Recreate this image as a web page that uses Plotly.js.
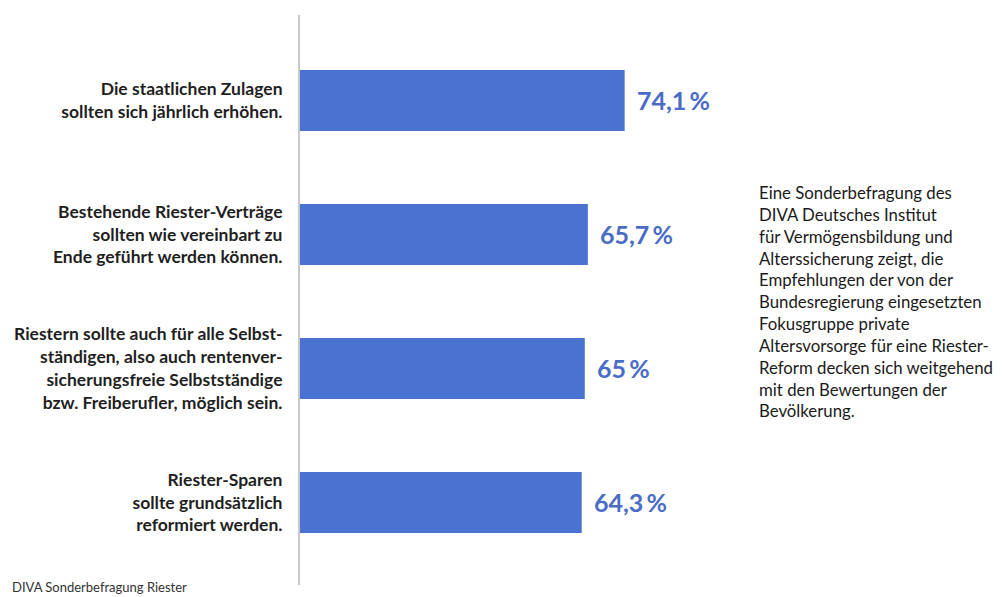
<!DOCTYPE html>
<html>
<head>
<meta charset="utf-8">
<script src="https://cdn.plot.ly/plotly-3.0.1.min.js"></script>
<style>html,body{margin:0;padding:0;background:#fff;}#chart{width:1005px;height:597px;}</style>
</head>
<body>
<div id="chart"></div>
<script>
const categories = [
  "Die staatlichen Zulagen<br>sollten sich jährlich erhöhen.",
  "Bestehende Riester-Verträge<br>sollten wie vereinbart zu<br>Ende geführt werden können.",
  "Riestern sollte auch für alle Selbst-<br>ständigen, also auch rentenver-<br>sicherungsfreie Selbstständige<br>bzw. Freiberufler, möglich sein.",
  "Riester-Sparen<br>sollte grundsätzlich<br>reformiert werden."
];
const values = [74.1, 65.7, 65, 64.3];
const valueLabels = ["74,1\u2009%", "65,7\u2009%", "65\u2009%", "64,3\u2009%"];
const sideNote = "Eine Sonderbefragung des<br>DIVA Deutsches Institut<br>für Vermögensbildung und<br>Alterssicherung zeigt, die<br>Empfehlungen der von der<br>Bundesregierung eingesetzten<br>Fokusgruppe private<br>Altersvorsorge für eine Riester-<br>Reform decken sich weitgehend<br>mit den Bewertungen der<br>Bevölkerung.";
const source = "DIVA Sonderbefragung Riester";

const barColor = "#4a72d0";
const labelColor = "#4a6cc6";

const trace = {
  type: "bar",
  orientation: "h",
  x: values,
  y: categories,
  width: 0.455,
  marker: {color: barColor},
  hoverinfo: "none"
};

const annotations = values.map((v, i) => ({
  x: v, y: categories[i], xref: "x", yref: "y",
  text: "<b>" + valueLabels[i] + "</b>",
  showarrow: false, xanchor: "left", yanchor: "middle", xshift: 10,
  font: {family: "Lato", size: 25, color: labelColor}
}));
annotations.push({
  xref: "paper", yref: "paper", x: 1.142, y: 0.7114,
  xanchor: "left", yanchor: "top", align: "left",
  text: sideNote, showarrow: false,
  font: {family: "Lato", size: 16.8, color: "#1a1a1a"}
});
annotations.push({
  xref: "paper", yref: "paper", x: -0.725, y: 0,
  xanchor: "left", yanchor: "bottom", yshift: -12, align: "left",
  text: source, showarrow: false,
  font: {family: "Lato", size: 13, color: "#333"}
});

const layout = {
  width: 1005, height: 597,
  margin: {l: 300, r: 305, t: 15, b: 12, pad: 0},
  paper_bgcolor: "#fff", plot_bgcolor: "#fff",
  showlegend: false,
  xaxis: {range: [0, 91.3], visible: false, showgrid: false, zeroline: false, fixedrange: true},
  yaxis: {
    type: "category",
    range: [3.616, -0.638],
    showline: true, linecolor: "#c8c8c8", linewidth: 2,
    showgrid: false, zeroline: false, ticks: "",
    ticklabelstandoff: 12,
    tickfont: {family: "Lato", size: 17.5, color: "#1f1f1f", weight: "bold"}
  },
  annotations: annotations
};

Plotly.newPlot("chart", [trace], layout, {staticPlot: true, displayModeBar: false});
</script>
</body>
</html>
